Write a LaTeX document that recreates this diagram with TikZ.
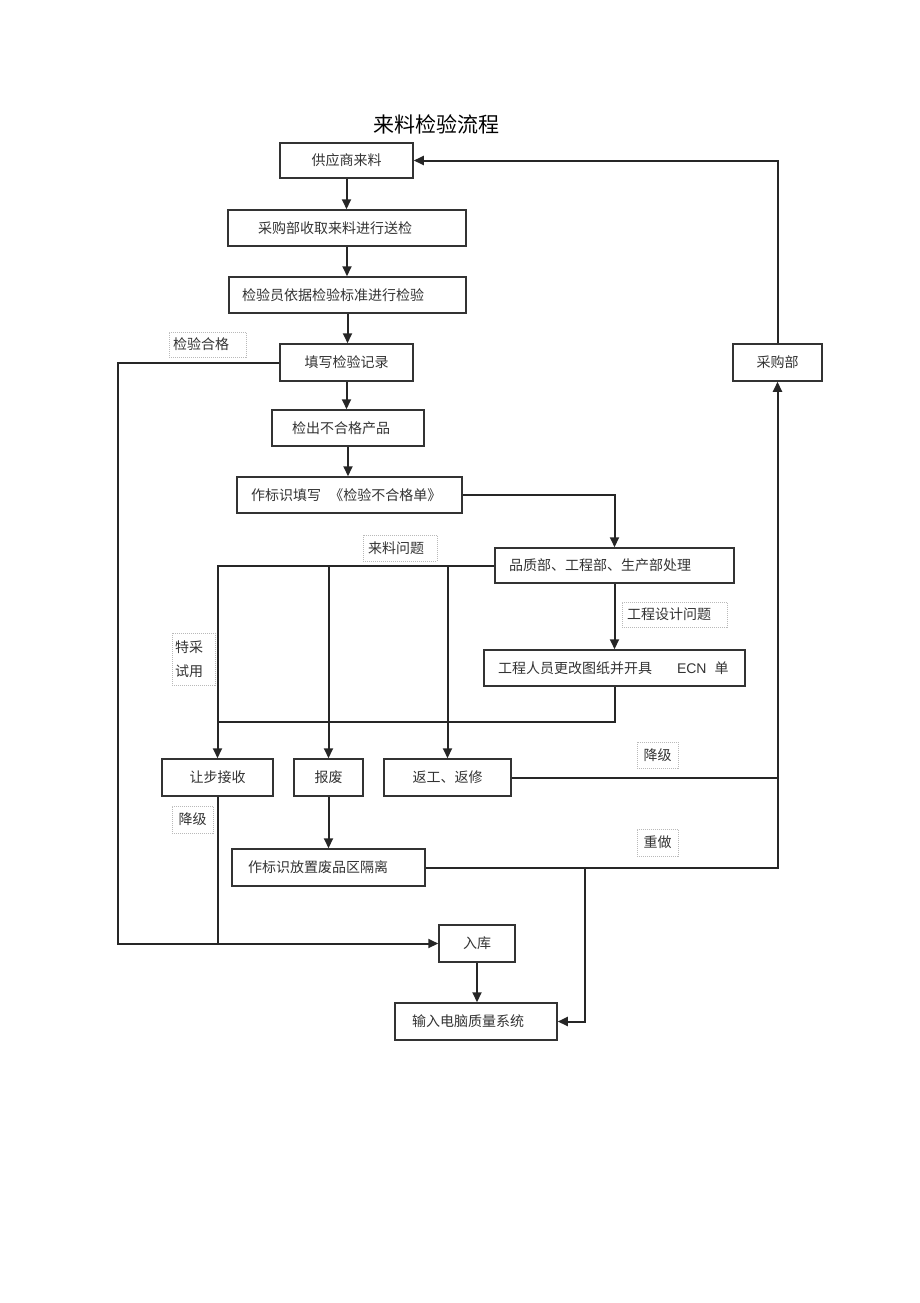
\documentclass[tikz,border=0pt]{standalone}
\usepackage{fontspec}
\setmainfont{Noto Sans CJK SC}
\newfontfamily\ecnfont{Liberation Sans}
\usetikzlibrary{arrows.meta,calc}
\begin{document}
\begin{tikzpicture}[x=1pt,y=-1pt,
  every node/.style={font=\fontsize{14}{24}\selectfont, text=black!80},
  bx/.style={draw=black!80, line width=1.5pt, rectangle, inner ysep=0pt},
  lbl/.style={draw=gray!55, densely dotted, line width=1pt, rectangle, inner ysep=0pt},
  conn/.style={draw=black!85, line width=2pt},
  arr/.style={conn, -{Triangle[length=10pt,width=9pt]}}
]
\useasboundingbox (0,0) rectangle (920,1303);
% title
\node (title) at (436,124) {\fontsize{21}{24}\selectfont\color{black}来料检验流程};
% boxes
\node[bx, minimum width=133, minimum height=35, text width=113, inner xsep=10, align=center] (sup) at (346.5,160.5) {供应商来料};
\node[bx, minimum width=238, minimum height=36, text width=178, inner xsep=30, align=left] (cg) at (347,228) {采购部收取来料进行送检};
\node[bx, minimum width=237, minimum height=36, text width=211, inner xsep=13, align=left] (jy) at (347.5,295) {检验员依据检验标准进行检验};
\node[bx, minimum width=133, minimum height=37, text width=113, inner xsep=10, align=center] (tx) at (346.5,362.5) {填写检验记录};
\node[bx, minimum width=152, minimum height=36, text width=112, inner xsep=20, align=left] (jc) at (348,428) {检出不合格产品};
\node[bx, minimum width=225, minimum height=36, text width=197, inner xsep=14, align=left] (bs) at (349.5,495) {作标识填写\hspace{0.6em}《检验不合格单》};
\node[bx, minimum width=239, minimum height=35, text width=211, inner xsep=14, align=left] (pz) at (614.5,565.5) {品质部、工程部、生产部处理};
\node[bx, minimum width=89, minimum height=37, text width=69, inner xsep=10, align=center] (cgb) at (777.5,362.5) {采购部};
\node[bx, minimum width=261, minimum height=36, text width=233, inner xsep=14, align=left] (gc) at (614.5,668) {工程人员更改图纸并开具\hspace{25pt}{\ecnfont ECN}\hspace{8pt}单};
\node[bx, minimum width=111, minimum height=37, text width=91, inner xsep=10, align=center] (rb) at (217.5,777.5) {让步接收};
\node[bx, minimum width=69, minimum height=37, text width=49, inner xsep=10, align=center] (bf) at (328.5,777.5) {报废};
\node[bx, minimum width=127, minimum height=37, text width=107, inner xsep=10, align=center] (fg) at (447.5,777.5) {返工、返修};
\node[bx, minimum width=193, minimum height=37, text width=161, inner xsep=16, align=left] (fp) at (328.5,867.5) {作标识放置废品区隔离};
\node[bx, minimum width=76, minimum height=37, text width=56, inner xsep=10, align=center] (rk) at (477,943.5) {入库};
\node[bx, minimum width=162, minimum height=37, text width=128, inner xsep=17, align=left] (sr) at (476,1021.5) {输入电脑质量系统};
% labels
\node[lbl, minimum width=77, minimum height=25, text width=69, inner xsep=4, align=left] (l1) at (207.5,344.5) {检验合格};
\node[lbl, minimum width=74, minimum height=26, text width=64, inner xsep=5, align=left] (l2) at (400,548) {来料问题};
\node[lbl, minimum width=43, minimum height=52, text width=37, inner xsep=3, align=left] (l3) at (193.5,659) {特采\\试用};
\node[lbl, minimum width=105, minimum height=25, text width=95, inner xsep=5, align=left] (l4) at (674.5,614.5) {工程设计问题};
\node[lbl, minimum width=41, minimum height=26, text width=33, inner xsep=4, align=center] (l5) at (657.5,755) {降级};
\node[lbl, minimum width=41, minimum height=27, text width=33, inner xsep=4, align=center] (l6) at (657.5,842.5) {重做};
\node[lbl, minimum width=41, minimum height=27, text width=33, inner xsep=4, align=center] (l7) at (192.5,819.5) {降级};
% helper coordinates
\coordinate (m1) at (217.5,722);
\coordinate (lc1) at (118,362.5);
\coordinate (lc2) at (118,943.5);
\coordinate (c3) at (585,867.5);
% connectors
\draw[arr] (sup.south) -- (sup.south |- cg.north);
\draw[arr] (cg.south) -- (cg.south |- jy.north);
\draw[arr] (jy.south) -- (jy.south |- tx.north);
\draw[arr] (tx.south) -- (tx.south |- jc.north);
\draw[arr] (jc.south) -- (jc.south |- bs.north);
\draw[arr] (bs.east) -| (pz.north);
\draw[arr] (pz.west) -| (rb.north);
\draw[arr] (bf.north |- pz.west) -- (bf.north);
\draw[arr] (fg.north |- pz.west) -- (fg.north);
\draw[arr] (pz.south) -- (gc.north);
\draw[conn] (gc.south) |- (m1);
\draw[arr] (tx.west) -- (lc1) -- (lc2) -- (rk.west);
\draw[conn] (rb.south) -- (rb.south |- rk.west);
\draw[arr] (fg.east) -| (cgb.south);
\draw[conn] (fp.east) -| (fg.east -| cgb.south);
\draw[arr] (bf.south) -- (fp.north);
\draw[arr] (c3) |- (sr.east);
\draw[arr] (rk.south) -- (rk.south |- sr.north);
\draw[arr] (cgb.north) |- (sup.east);
\end{tikzpicture}
\end{document}
